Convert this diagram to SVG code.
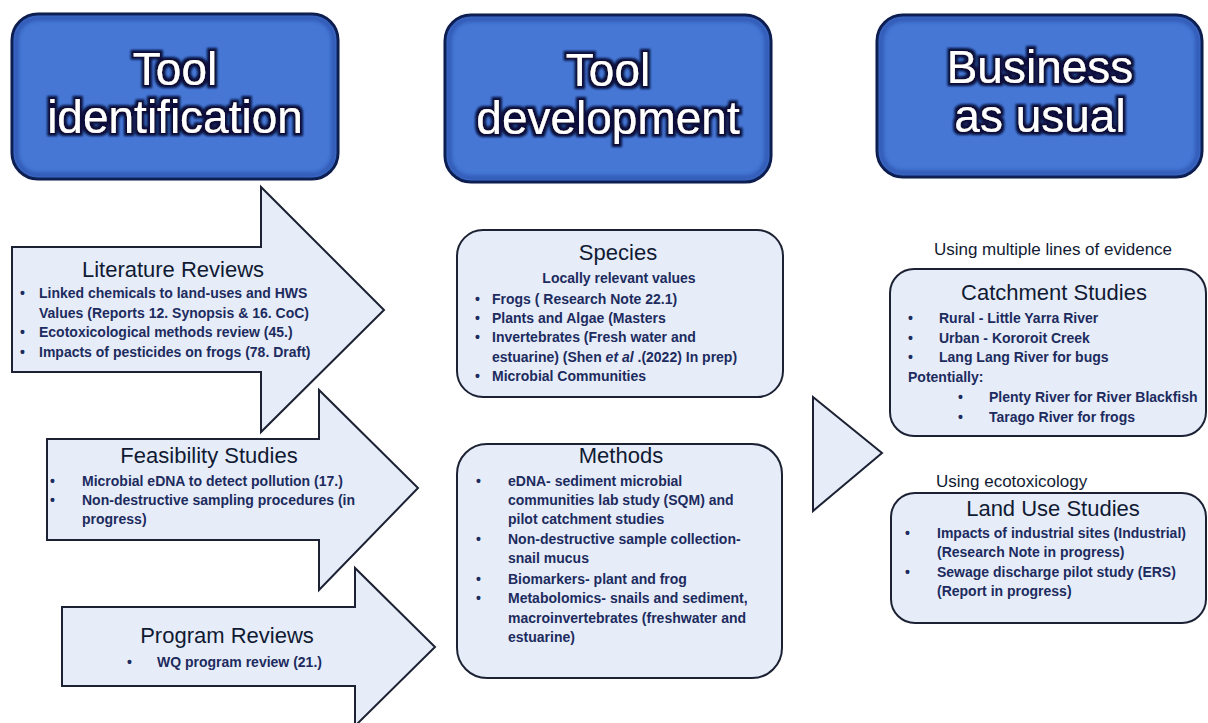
<svg xmlns="http://www.w3.org/2000/svg" width="1208" height="723" viewBox="0 0 1208 723">
<defs>
<filter id="glow" x="-10%" y="-20%" width="120%" height="140%">
<feMorphology in="SourceAlpha" operator="dilate" radius="2.5" result="d"/>
<feGaussianBlur in="d" stdDeviation="1.2" result="b"/>
<feFlood flood-color="#08103a"/>
<feComposite in2="b" operator="in" result="s"/>
<feMerge><feMergeNode in="s"/><feMergeNode in="SourceGraphic"/></feMerge>
</filter>
<filter id="soft" x="-5%" y="-5%" width="110%" height="110%">
<feGaussianBlur stdDeviation="2"/>
</filter>
</defs>
<style>
.hdr{fill:#4677d5;stroke:#0c1a48;stroke-width:3}
.hdrin{fill:none;stroke:#1f3f98;stroke-width:4;opacity:0.7;filter:url(#soft)}
.hdrt{font-family:"Liberation Sans",Arial,sans-serif;font-size:46px;fill:#ffffff;text-anchor:middle;filter:url(#glow)}
.shape{fill:#e6edf9;stroke:#1c2233;stroke-width:2}
.box{fill:#e6edf9;stroke:#1c2233;stroke-width:2}
.ttl{font-family:"Liberation Sans",Arial,sans-serif;font-size:22px;fill:#111a33;text-anchor:middle}
.txt{font-family:"Liberation Sans",Arial,sans-serif;font-size:14px;font-weight:bold;fill:#1d2b5e}
.sub{font-family:"Liberation Sans",Arial,sans-serif;font-size:17px;fill:#111a33}
</style>

<g id="connectors">
<path id="arrow-literature" class="shape" d="M12,247 H261 V187 L384,310 L261,432 V372 H12 Z"/>
<path id="arrow-feasibility" class="shape" d="M47,439 H319 V390 L418,488 L319,590 V540 H47 Z"/>
<path id="arrow-program" class="shape" d="M62,607 H355 V568 L435,647 L355,726 V686 H62 Z"/>
<path id="arrow-bau" class="shape" d="M813,397 L882,453 L813,511 Z"/>
</g>

<g id="node-tool-identification">
<rect class="hdr" x="12" y="14" width="326" height="165" rx="26"/>
<rect class="hdrin" x="16" y="18" width="318" height="157" rx="22"/>
<text class="hdrt" x="175" y="85">Tool</text>
<text class="hdrt" x="175" y="133">identification</text>
</g>

<g id="node-tool-development">
<rect class="hdr" x="445" y="15" width="326" height="167" rx="26"/>
<rect class="hdrin" x="449" y="19" width="318" height="159" rx="22"/>
<text class="hdrt" x="608" y="86">Tool</text>
<text class="hdrt" x="608" y="134">development</text>
</g>

<g id="node-business-as-usual">
<rect class="hdr" x="877" y="15" width="325" height="162" rx="26"/>
<rect class="hdrin" x="881" y="19" width="317" height="154" rx="22"/>
<text class="hdrt" x="1040" y="83">Business</text>
<text class="hdrt" x="1040" y="132">as usual</text>
</g>

<g id="node-literature-reviews">
<text class="ttl" x="173" y="277">Literature Reviews</text>
<text class="txt" x="20" y="298">•</text><text class="txt" x="39" y="298">Linked chemicals to land-uses and HWS</text>
<text class="txt" x="39" y="318">Values (Reports 12. Synopsis &amp; 16. CoC)</text>
<text class="txt" x="20" y="337">•</text><text class="txt" x="39" y="337">Ecotoxicological methods review (45.)</text>
<text class="txt" x="20" y="357">•</text><text class="txt" x="39" y="357">Impacts of pesticides on frogs (78. Draft)</text>
</g>

<g id="node-feasibility-studies">
<text class="ttl" x="209" y="463">Feasibility Studies</text>
<text class="txt" x="50" y="486">•</text><text class="txt" x="82" y="486">Microbial eDNA to detect pollution (17.)</text>
<text class="txt" x="50" y="505">•</text><text class="txt" x="82" y="505">Non-destructive sampling procedures (in</text>
<text class="txt" x="82" y="524">progress)</text>
</g>

<g id="node-program-reviews">
<text class="ttl" x="227" y="643">Program Reviews</text>
<text class="txt" x="127" y="667">•</text><text class="txt" x="157" y="667">WQ program review (21.)</text>
</g>

<g id="node-species">
<rect class="box" x="457" y="230" width="326" height="167" rx="26"/>
<text class="ttl" x="618" y="260">Species</text>
<text class="txt" x="619" y="283" text-anchor="middle">Locally relevant values</text>
<text class="txt" x="475" y="304">•</text><text class="txt" x="492" y="304">Frogs ( Research Note 22.1)</text>
<text class="txt" x="475" y="323">•</text><text class="txt" x="492" y="323">Plants and Algae (Masters</text>
<text class="txt" x="475" y="342">•</text><text class="txt" x="492" y="342">Invertebrates (Fresh water and</text>
<text class="txt" x="492" y="362">estuarine) (Shen <tspan font-style="italic">et al</tspan> .(2022) In prep)</text>
<text class="txt" x="475" y="381">•</text><text class="txt" x="492" y="381">Microbial Communities</text>
</g>

<g id="node-methods">
<rect class="box" x="457" y="444" width="325" height="234" rx="30"/>
<text class="ttl" x="621" y="463">Methods</text>
<text class="txt" x="476" y="486">•</text><text class="txt" x="508" y="486">eDNA- sediment microbial</text>
<text class="txt" x="508" y="505">communities lab study (SQM) and</text>
<text class="txt" x="508" y="524">pilot catchment studies</text>
<text class="txt" x="476" y="544">•</text><text class="txt" x="508" y="544">Non-destructive sample collection-</text>
<text class="txt" x="508" y="563">snail mucus</text>
<text class="txt" x="476" y="584">•</text><text class="txt" x="508" y="584">Biomarkers- plant and frog</text>
<text class="txt" x="476" y="603">•</text><text class="txt" x="508" y="603">Metabolomics- snails and sediment,</text>
<text class="txt" x="508" y="623">macroinvertebrates (freshwater and</text>
<text class="txt" x="508" y="642">estuarine)</text>
</g>

<g id="node-catchment-studies">
<text class="sub" x="1053" y="255" text-anchor="middle">Using multiple lines of evidence</text>
<rect class="box" x="890" y="269" width="316" height="167" rx="24"/>
<text class="ttl" x="1054" y="300">Catchment Studies</text>
<text class="txt" x="908" y="323">•</text><text class="txt" x="939" y="323">Rural - Little Yarra River</text>
<text class="txt" x="908" y="343">•</text><text class="txt" x="939" y="343">Urban - Kororoit  Creek</text>
<text class="txt" x="908" y="362">•</text><text class="txt" x="939" y="362">Lang Lang River for bugs</text>
<text class="txt" x="908" y="382">Potentially:</text>
<text class="txt" x="958" y="402">•</text><text class="txt" x="989" y="402">Plenty River for River Blackfish</text>
<text class="txt" x="958" y="422">•</text><text class="txt" x="989" y="422">Tarago River for frogs</text>
</g>

<g id="node-land-use-studies">
<text class="sub" x="936" y="487">Using ecotoxicology</text>
<rect class="box" x="891" y="493" width="315" height="130" rx="24"/>
<text class="ttl" x="1053" y="516">Land Use Studies</text>
<text class="txt" x="905" y="538">•</text><text class="txt" x="937" y="538">Impacts of industrial sites (Industrial)</text>
<text class="txt" x="937" y="557">(Research Note in progress)</text>
<text class="txt" x="905" y="577">•</text><text class="txt" x="937" y="577">Sewage discharge pilot study (ERS)</text>
<text class="txt" x="937" y="596">(Report in progress)</text>
</g>
</svg>
